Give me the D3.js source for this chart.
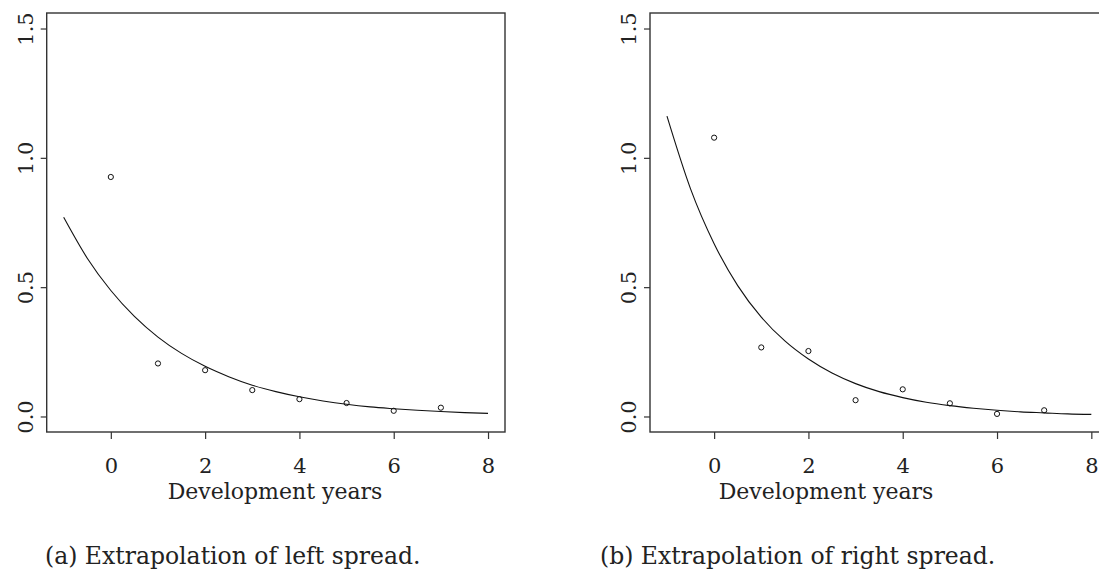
<!DOCTYPE html>
<html>
<head>
<meta charset="utf-8">
<script src="https://cdn.jsdelivr.net/npm/d3@7"></script>
<style>
  body { margin: 0; background: #fff; }
  svg { display: block; font-family: "DejaVu Serif", serif; }
</style>
</head>
<body>
<div id="chart"></div>
<script>
// observed development years and the two spreads
const years = [0, 1, 2, 3, 4, 5, 6, 7];
const leftSpread = [0.926, 0.205, 0.179, 0.102, 0.067, 0.052, 0.022, 0.034];
const rightSpread = [1.078, 0.267, 0.253, 0.063, 0.105, 0.051, 0.010, 0.024];

// fitted curves at half-year steps
const fitYears = [-1, -0.5, 0, 0.5, 1, 1.5, 2, 2.5, 3, 3.5, 4, 4.5, 5, 5.5, 6, 6.5, 7, 7.5, 8];
const leftFit = [0.770, 0.612, 0.487, 0.387, 0.307, 0.244, 0.194, 0.154, 0.121, 0.096, 0.076, 0.060, 0.047, 0.037, 0.030, 0.024, 0.019, 0.015, 0.012];
const rightFit = [1.161, 0.880, 0.668, 0.506, 0.384, 0.292, 0.222, 0.168, 0.127, 0.096, 0.073, 0.055, 0.042, 0.032, 0.024, 0.018, 0.014, 0.010, 0.008];

const xTicks = [0, 2, 4, 6, 8];
const yTicks = [0, 0.5, 1, 1.5];
const xLabel = "Development years";
const captions = ["(a) Extrapolation of left spread.", "(b) Extrapolation of right spread."];

const w = 1099, h = 569;
const plotTop = 13, plotBottom = 432, plotW = 458.3;
const serif = '"DejaVu Serif", serif';

const panels = [
    { left: 46.7, values: leftSpread, fit: leftFit, caption: captions[0], labelX: 275, captionX: 45 },
    { left: 650, values: rightSpread, fit: rightFit, caption: captions[1], labelX: 826, captionX: 600 }
];

const svg = d3.select("#chart")
    .append("svg")
    .attr("width", w)
    .attr("height", h);

const yScale = d3.scaleLinear()
    .domain([-0.06, 1.56])
    .range([plotBottom, plotTop]);

panels.forEach(p => {
    const xScale = d3.scaleLinear()
        .domain([-1.36, 8.36])
        .range([p.left, p.left + plotW]);

    const g = svg.append("g");

    // box
    g.append("rect")
        .attr("x", p.left)
        .attr("y", plotTop)
        .attr("width", plotW)
        .attr("height", plotBottom - plotTop)
        .attr("fill", "none")
        .attr("stroke", "#333")
        .attr("stroke-width", 1.4);

    const xAxis = d3.axisBottom(xScale)
        .tickValues(xTicks)
        .tickSize(7)
        .tickFormat(d3.format("d"));

    const gx = g.append("g")
        .attr("transform", "translate(0," + plotBottom + ")")
        .call(xAxis)
        .attr("font-family", serif)
        .attr("font-size", 21);
    gx.select(".domain").remove();
    gx.selectAll("line").attr("stroke", "#333").attr("stroke-width", 1.2);
    gx.selectAll("text")
        .attr("y", 41)
        .attr("dy", 0)
        .attr("fill", "#222");

    const yAxis = d3.axisLeft(yScale)
        .tickValues(yTicks)
        .tickSize(6)
        .tickFormat(d3.format(".1f"));

    const gy = g.append("g")
        .attr("transform", "translate(" + p.left + ",0)")
        .call(yAxis)
        .attr("font-family", serif)
        .attr("font-size", 21);
    gy.select(".domain").remove();
    gy.selectAll("line").attr("stroke", "#333").attr("stroke-width", 1.2);
    gy.selectAll("text")
        .attr("x", 0)
        .attr("y", -14)
        .attr("dy", 0)
        .attr("text-anchor", "middle")
        .attr("transform", "rotate(-90)")
        .attr("fill", "#222");

    // fitted curve
    const line = d3.line()
        .x((d, i) => xScale(fitYears[i]))
        .y(d => yScale(d))
        .curve(d3.curveMonotoneX);

    g.append("path")
        .datum(p.fit)
        .attr("d", line)
        .attr("fill", "none")
        .attr("stroke", "#111")
        .attr("stroke-width", 1.1);

    // observed points
    g.selectAll("circle")
        .data(p.values)
        .enter()
        .append("circle")
        .attr("cx", (d, i) => xScale(years[i]))
        .attr("cy", d => yScale(d))
        .attr("r", 2.6)
        .attr("fill", "none")
        .attr("stroke", "#111")
        .attr("stroke-width", 1);

    g.append("text")
        .attr("x", p.labelX)
        .attr("y", 499)
        .attr("text-anchor", "middle")
        .attr("fill", "#222")
        .style("font-size", "22px")
        .text(xLabel);

    g.append("text")
        .attr("x", p.captionX)
        .attr("y", 564)
        .attr("fill", "#222")
        .style("font-size", "23.5px")
        .text(p.caption);
});
</script>
</body>
</html>
